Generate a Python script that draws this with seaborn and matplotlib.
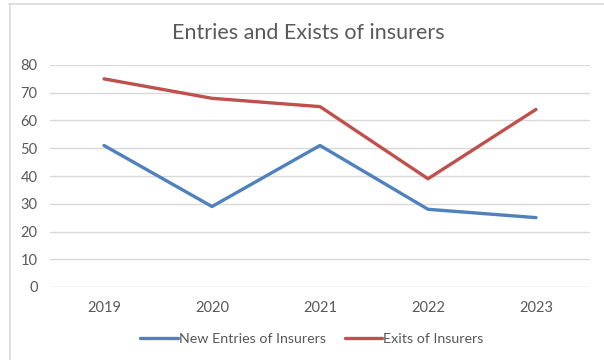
import matplotlib
matplotlib.use("Agg")
import matplotlib.pyplot as plt
from matplotlib.lines import Line2D
import seaborn as sns
import pandas as pd

years = ["2019", "2020", "2021", "2022", "2023"]
new_entries = [51, 29, 51, 28, 25]
exits = [75, 68, 65, 39, 64]
series_names = ["New Entries of Insurers", "Exits of Insurers"]
palette = ["#4F81BD", "#C0504D"]

df = pd.DataFrame({
    "Year": years * 2,
    "Count": new_entries + exits,
    "Series": [series_names[0]] * len(years) + [series_names[1]] * len(years),
})

sns.set_theme(style="white")
plt.rcParams["font.family"] = ["Lato", "DejaVu Sans"]

fig = plt.figure(figsize=(6.04, 3.6), dpi=100)
ax = fig.add_axes([50 / 604, 73 / 360, 540 / 604, 222 / 360])

sns.lineplot(data=df, x="Year", y="Count", hue="Series", palette=palette,
             linewidth=2.4, ax=ax, sort=False, legend=True)

ax.set_xlim(-0.5, len(years) - 0.5)
ax.set_ylim(0, 80)
ax.set_yticks(range(0, 81, 10))
ax.yaxis.grid(True, color="#D9D9D9", linewidth=1.0)
ax.set_axisbelow(True)
for s in ax.spines.values():
    s.set_visible(False)
ax.set_xlabel("")
ax.set_ylabel("")
ax.tick_params(axis="both", length=0, labelsize=10.5, colors="#595959")
ax.tick_params(axis="y", pad=9)
ax.tick_params(axis="x", pad=10)

handles, labels = ax.get_legend_handles_labels()
ax.get_legend().remove()
fig.legend(handles, labels, loc="center", bbox_to_anchor=(312 / 604, 1 - 339 / 360),
           ncol=2, frameon=False, fontsize=10.3, handlelength=2.6,
           handletextpad=0.1, columnspacing=1.3, labelcolor="#595959")

fig.suptitle("Entries and Exists of insurers", x=308 / 604, y=1 - 33 / 360,
             va="center", fontsize=15.5, color="#595959")

# chart frame edges
fig.add_artist(Line2D([9 / 604, 1], [1 - 3.5 / 360, 1 - 3.5 / 360],
                      transform=fig.transFigure, color="#D9D9D9", linewidth=1.2))
fig.add_artist(Line2D([9.5 / 604, 9.5 / 604], [0, 1 - 3.5 / 360],
                      transform=fig.transFigure, color="#D9D9D9", linewidth=1.2))

fig.savefig("out.png", dpi=100, facecolor="white")
